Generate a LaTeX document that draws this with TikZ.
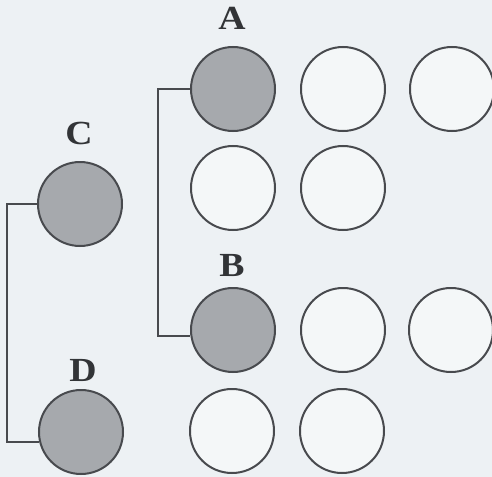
\documentclass[tikz,border=0pt]{standalone}
\usepackage{fontspec}
\setmainfont{Liberation Serif}
\usetikzlibrary{positioning,calc}
\definecolor{paper}{RGB}{237,241,244}
\definecolor{ink}{RGB}{72,74,78}
\definecolor{shade}{RGB}{166,169,173}
\tikzset{
  cell/.style={circle,draw=ink,line width=0.05cm,minimum size=2.1cm,
    inner sep=0pt,fill=white!40!paper},
  marked/.style={cell,fill=shade},
  link/.style={draw=ink,line width=0.05cm},
  tag/.style={font=\bfseries\fontsize{24}{28}\selectfont,text=ink!70!black,
    inner sep=0pt,xscale=1.12}
}
\begin{document}
\begin{tikzpicture}
  \fill[paper] (0,0) rectangle (12.3,-11.925);
  \useasboundingbox (0,0) rectangle (12.3,-11.925);
  \node[marked] (A) at (5.825,-2.225) {};
  \node[cell] (a2) at (8.575,-2.225) {};
  \node[cell] (a3) at (11.3,-2.225) {};
  \node[cell] (e1) at (5.825,-4.7) {};
  \node[cell] (e2) at (8.575,-4.7) {};
  \node[marked] (C) at (2.0,-5.1) {};
  \node[marked] (B) at (5.825,-8.25) {};
  \node[cell] (b2) at (8.575,-8.25) {};
  \node[cell] (b3) at (11.275,-8.25) {};
  \node[marked] (D) at (2.025,-10.8) {};
  \node[cell] (d2) at (5.8,-10.775) {};
  \node[cell] (d3) at (8.55,-10.775) {};
  \node[tag] (labelA) at (5.8,-0.45) {A};
  \node[tag] (labelC) at (1.975,-3.325) {C};
  \node[tag] (labelB) at (5.8,-6.625) {B};
  \node[tag] (labelD) at (2.075,-9.25) {D};
  \draw[link] (C.west) -- ++(-0.75,0) |- (D.194);
  \draw[link] (A.west) -- ++(-0.8,0) |- (B.188);
\end{tikzpicture}
\end{document}
